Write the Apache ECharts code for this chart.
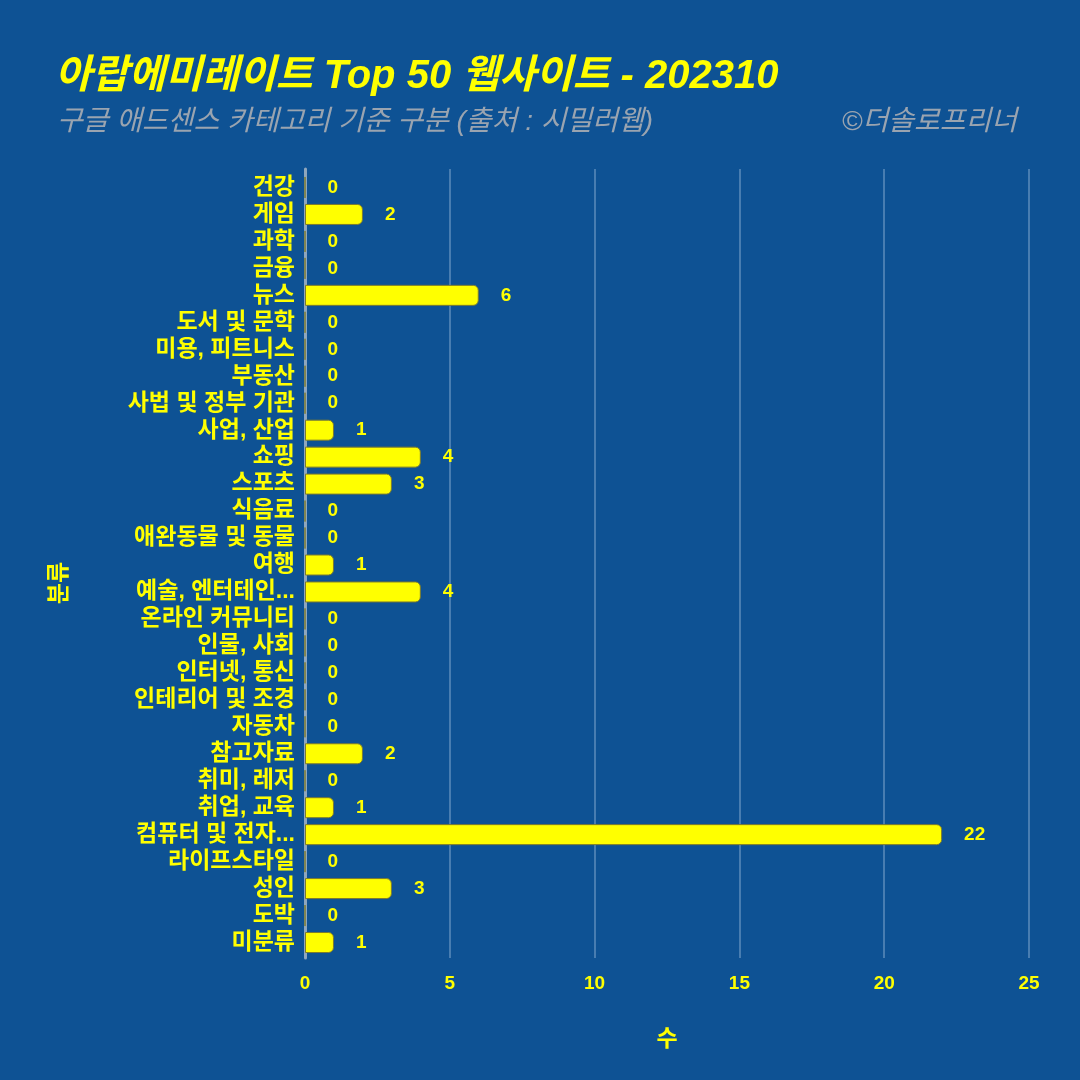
<!DOCTYPE html>
<html><head><meta charset="utf-8">
<script src="https://cdn.jsdelivr.net/npm/echarts@6/dist/echarts.min.js"></script>
<style>html,body{margin:0;padding:0;background:#0E5294;}#c{width:1080px;height:1080px;}</style>
</head><body><div id="c"></div>
<script>
const categories = ["건강","게임","과학","금융","뉴스","도서 및 문학","미용, 피트니스","부동산","사법 및 정부 기관","사업, 산업","쇼핑","스포츠","식음료","애완동물 및 동물","여행","예술, 엔터테인...","온라인 커뮤니티","인물, 사회","인터넷, 통신","인테리어 및 조경","자동차","참고자료","취미, 레저","취업, 교육","컴퓨터 및 전자...","라이프스타일","성인","도박","미분류"];
const values = [0,2,0,0,6,0,0,0,0,1,4,3,0,0,1,4,0,0,0,0,0,2,0,1,22,0,3,0,1];
const xTicks = [0,5,10,15,20,25];
const titleText = "아랍에미레이트 Top 50 웹사이트 - 202310";
const subtitleText = "구글 애드센스 카테고리 기준 구분 (출처 : 시밀러웹)";
const creditText = "©더솔로프리너";
const xName = "수";
const yName = "분류";

const chart = echarts.init(document.getElementById('c'));
const FONT = "'Liberation Sans', 'Noto Sans CJK KR', sans-serif";
chart.setOption({
  backgroundColor: '#0E5294',
  animation: false,
  title: [
    {text: titleText, left: 50, top: 52, textStyle: {color: '#FFFF00', fontSize: 40, fontWeight: 'bold', fontStyle: 'italic', fontFamily: FONT}},
    {text: subtitleText, left: 52, top: 103, textStyle: {color: '#9AA4B0', fontSize: 28, fontWeight: 'normal', fontStyle: 'italic', fontFamily: FONT}},
    {text: creditText, right: 58, top: 103, textStyle: {color: '#9AA4B0', fontSize: 28, fontWeight: 'normal', fontStyle: 'italic', fontFamily: FONT}}
  ],
  graphic: [{
    type: 'text', x: 60, y: 583, rotation: Math.PI / 2,
    style: {text: yName, fill: '#FFFF00', font: "bold 23px 'Liberation Sans', 'Noto Sans CJK KR', sans-serif", align: 'center', verticalAlign: 'middle'}
  }],
  grid: [
    {left: 305, right: 51, top: 169, bottom: 122, containLabel: false},
    {left: 305, right: 51, top: 174, bottom: 124, containLabel: false}
  ],
  xAxis: [{
    gridIndex: 0, type: 'value', min: 0, max: 25, interval: 5,
    axisLine: {show: false}, axisTick: {show: false}, axisLabel: {show: false},
    splitLine: {show: true, lineStyle: {color: 'rgba(160,190,220,0.4)', width: 2}}
  }, {
    gridIndex: 1, type: 'value', min: 0, max: 25, interval: 5,
    name: xName, nameLocation: 'middle', nameGap: 72,
    nameTextStyle: {color: '#FFFF00', fontSize: 23, fontWeight: 'bold', fontFamily: FONT},
    axisLine: {show: false}, axisTick: {show: false},
    axisLabel: {color: '#FFFF00', fontSize: 19, fontWeight: 'bold', fontFamily: FONT, margin: 18,
      formatter: v => xTicks.includes(v) ? String(v) : ''},
    splitLine: {show: false}
  }],
  yAxis: [{
    gridIndex: 0, type: 'value', min: 0, max: 1,
    axisLine: {show: true, lineStyle: {color: '#8FA6BD', width: 3}},
    axisTick: {show: false}, axisLabel: {show: false}, splitLine: {show: false}
  }, {
    gridIndex: 1, type: 'category', data: categories, inverse: true,
    axisLine: {show: false},
    axisTick: {show: false},
    axisLabel: {color: '#FFFF00', fontSize: 23, fontWeight: 'bold', fontFamily: FONT, margin: 10, interval: 0}
  }],
  series: [{
    type: 'bar', xAxisIndex: 1, yAxisIndex: 1, data: values, barWidth: 21,
    itemStyle: {color: '#FFFF00', borderColor: '#7A7A30', borderWidth: 1, borderRadius: [0, 5, 5, 0]},
    label: {show: true, position: 'right', distance: 22, color: '#FFFF00', fontSize: 19, fontWeight: 'bold', fontFamily: FONT}
  }]
});
</script></body></html>
